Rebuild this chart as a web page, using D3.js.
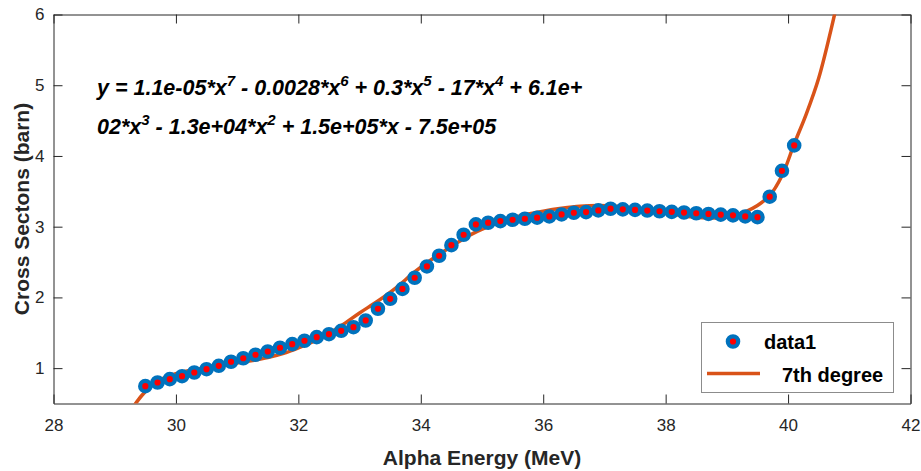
<!DOCTYPE html>
<html>
<head>
<meta charset="utf-8">
<script src="https://cdn.jsdelivr.net/npm/d3@7"></script>
<style>
  body { margin: 0; background: #fff; }
  svg { display: block; font-family: "Liberation Sans", Arial, sans-serif; }
</style>
</head>
<body>
<svg id="chart" width="921" height="471"></svg>
<script>
// measured points (data1)
const energy = [29.5, 29.7, 29.9, 30.1, 30.3, 30.5, 30.7, 30.9, 31.1, 31.3,
  31.5, 31.7, 31.9, 32.1, 32.3, 32.5, 32.7, 32.9, 33.1, 33.3,
  33.5, 33.7, 33.9, 34.1, 34.3, 34.5, 34.7, 34.9, 35.1, 35.3,
  35.5, 35.7, 35.9, 36.1, 36.3, 36.5, 36.7, 36.9, 37.1, 37.3,
  37.5, 37.7, 37.9, 38.1, 38.3, 38.5, 38.7, 38.9, 39.1, 39.3,
  39.5, 39.7, 39.9, 40.1];
const crossSection = [0.745, 0.797, 0.844, 0.886, 0.938, 0.985, 1.033, 1.09, 1.14, 1.189,
  1.235, 1.288, 1.339, 1.387, 1.438, 1.48, 1.528, 1.579, 1.674, 1.84,
  1.98, 2.12, 2.278, 2.438, 2.589, 2.739, 2.886, 3.032, 3.056, 3.079,
  3.098, 3.112, 3.127, 3.145, 3.173, 3.197, 3.206, 3.23, 3.254, 3.245,
  3.237, 3.228, 3.218, 3.21, 3.2, 3.19, 3.18, 3.17, 3.16, 3.145,
  3.135, 3.424, 3.79, 4.149];

// 7th degree fit
const fitX = [29.3, 29.45, 29.6, 29.8, 30.0, 30.3, 30.6, 30.9, 31.2, 31.5,
  31.8, 32.1, 32.4, 32.7, 33.0, 33.3, 33.6, 33.9, 34.2, 34.5,
  34.8, 35.1, 35.4, 35.7, 36.0, 36.3, 36.6, 36.9, 37.2, 37.5,
  37.8, 38.1, 38.4, 38.7, 38.9, 39.1, 39.3, 39.5, 39.7, 39.9,
  40.1, 40.3, 40.5, 40.7, 40.85];
const fitY = [0.45, 0.62, 0.75, 0.86, 0.92, 0.98, 1.02, 1.06, 1.1, 1.15,
  1.22, 1.32, 1.44, 1.6, 1.78, 1.95, 2.14, 2.36, 2.55, 2.72,
  2.88, 3.0, 3.1, 3.17, 3.22, 3.26, 3.29, 3.3, 3.29, 3.26,
  3.22, 3.18, 3.14, 3.125, 3.125, 3.15, 3.21, 3.3, 3.44, 3.72,
  4.17, 4.6, 5.1, 5.78, 6.35];

const xTicks = [28, 30, 32, 34, 36, 38, 40, 42];
const yTicks = [1, 2, 3, 4, 5, 6];
const legendLabels = ["data1", "7th degree"];
const eqLine1 = [["y = 1.1e-05*x", "7"], [" - 0.0028*x", "6"], [" + 0.3*x", "5"], [" - 17*x", "4"], [" + 6.1e+", ""]];
const eqLine2 = [["02*x", "3"], [" - 1.3e+04*x", "2"], [" + 1.5e+05*x - 7.5e+05", ""]];

const blue = "#0072BD";
const orange = "#D95319";
const ink = "#262626";

const svg = d3.select("#chart");
const plot = { left: 53.5, right: 910.5, top: 14.5, bottom: 403.5 };

const xscale = d3.scaleLinear().domain([28, 42]).range([plot.left, plot.right]);
const yscale = d3.scaleLinear().domain([0.5, 6]).range([plot.bottom, plot.top]);

svg.append("defs").append("clipPath").attr("id", "plotclip")
  .append("rect")
  .attr("x", plot.left).attr("y", plot.top)
  .attr("width", plot.right - plot.left).attr("height", plot.bottom - plot.top);

const addAxes = () => {
  const styleAxis = (g) => {
    g.select(".domain").attr("stroke", ink).attr("stroke-width", 1);
    g.selectAll(".tick line").attr("stroke", ink);
    g.selectAll(".tick text").attr("fill", ink).attr("font-size", 17);
  };
  svg.append("g")
    .attr("transform", `translate(0, ${plot.bottom})`)
    .call(d3.axisBottom(xscale).tickValues(xTicks).tickFormat(d3.format("d"))
      .tickSizeInner(-9).tickSizeOuter(0).tickPadding(15))
    .call(styleAxis);
  svg.append("g")
    .attr("transform", `translate(0, ${plot.top})`)
    .call(d3.axisTop(xscale).tickValues(xTicks).tickSizeInner(-9).tickSizeOuter(0).tickFormat(""))
    .call(styleAxis);
  svg.append("g")
    .attr("transform", `translate(${plot.left}, 0)`)
    .call(d3.axisLeft(yscale).tickValues(yTicks).tickFormat(d3.format("d"))
      .tickSizeInner(-9).tickSizeOuter(0).tickPadding(9))
    .call(styleAxis);
  svg.append("g")
    .attr("transform", `translate(${plot.right}, 0)`)
    .call(d3.axisRight(yscale).tickValues(yTicks).tickSizeInner(-9).tickSizeOuter(0).tickFormat(""))
    .call(styleAxis);
  // unlabeled top/right ticks carry empty text nodes
  svg.selectAll(".tick text").filter(function () { return this.textContent === ""; }).remove();
};

const addFit = () => {
  const line = d3.line()
    .x((d, i) => xscale(fitX[i]))
    .y((d) => yscale(d))
    .curve(d3.curveCatmullRom.alpha(0.5));
  svg.append("path")
    .datum(fitY)
    .attr("clip-path", "url(#plotclip)")
    .attr("d", line)
    .attr("fill", "none")
    .attr("stroke", orange)
    .attr("stroke-width", 3.5);
};

const addPoints = () => {
  svg.append("g")
    .selectAll("circle")
    .data(crossSection)
    .enter()
    .append("circle")
    .attr("cx", (d, i) => xscale(energy[i]))
    .attr("cy", (d) => yscale(d))
    .attr("r", 5.2)
    .attr("fill", "red")
    .attr("stroke", blue)
    .attr("stroke-width", 4.2);
};

const addText = () => {
  svg.append("text")
    .text("Alpha Energy (MeV)")
    .attr("x", (plot.left + plot.right) / 2)
    .attr("y", 465)
    .attr("text-anchor", "middle")
    .attr("font-weight", "bold")
    .attr("font-size", 21)
    .attr("fill", ink);
  svg.append("text")
    .text("Cross Sectons (barn)")
    .attr("transform", `translate(29, ${(plot.top + plot.bottom) / 2}) rotate(-90)`)
    .attr("text-anchor", "middle")
    .attr("font-weight", "bold")
    .attr("font-size", 21)
    .attr("fill", ink);

  const eq = (parts, y) => {
    const t = svg.append("text")
      .attr("x", 97).attr("y", y)
      .attr("font-weight", "bold")
      .attr("font-style", "italic")
      .attr("font-size", 21.5)
      .attr("fill", "#000");
    let shift = 0;
    parts.forEach(([base, sup]) => {
      t.append("tspan").text(base).attr("dy", shift);
      shift = 0;
      if (sup) {
        t.append("tspan").text(sup).attr("font-size", 15).attr("dy", -9);
        shift = 9;
      }
    });
  };
  eq(eqLine1, 95);
  eq(eqLine2, 134);
};

const addLegend = () => {
  const g = svg.append("g");
  g.append("rect")
    .attr("x", 701.5).attr("y", 322.5)
    .attr("width", 192).attr("height", 70)
    .attr("fill", "#fff")
    .attr("stroke", "#8c8c8c")
    .attr("stroke-width", 1);
  g.append("circle")
    .attr("cx", 733).attr("cy", 341.5)
    .attr("r", 5.2)
    .attr("fill", "red")
    .attr("stroke", blue)
    .attr("stroke-width", 4.2);
  g.append("line")
    .attr("x1", 707).attr("x2", 760)
    .attr("y1", 373.5).attr("y2", 373.5)
    .attr("stroke", orange)
    .attr("stroke-width", 3.5);
  g.selectAll("text")
    .data(legendLabels)
    .enter()
    .append("text")
    .text((d) => d)
    .attr("x", (d, i) => (i === 0 ? 764 : 782))
    .attr("y", (d, i) => (i === 0 ? 349 : 382))
    .attr("font-weight", "bold")
    .attr("font-size", 20)
    .attr("fill", "#000");
};

addAxes();
addFit();
addPoints();
addText();
addLegend();
</script>
</body>
</html>
